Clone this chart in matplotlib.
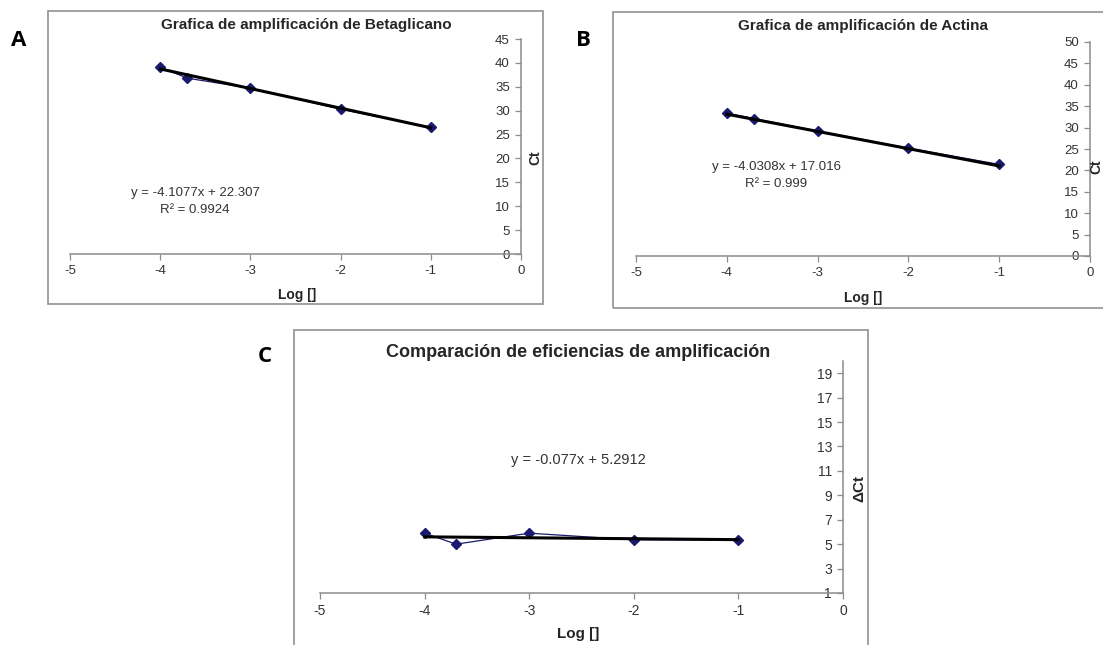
import matplotlib
matplotlib.use("Agg")
import matplotlib.pyplot as plt
from matplotlib.patches import Rectangle
import numpy as np

plt.rcParams['font.family'] = ['Liberation Sans', 'DejaVu Sans']

# data
log_conc = [-4, -3.699, -3, -2, -1]
ct_betaglicano = [39.1, 36.8, 34.7, 30.3, 26.5]
ct_actina = [33.4, 32.1, 29.2, 25.2, 21.4]
delta_ct = [5.9, 5.0, 5.9, 5.35, 5.35]

fit_betaglicano = (-4.1077, 22.307)
fit_actina = (-4.0308, 17.016)
fit_delta = (-0.077, 5.2912)

xticks = [-5, -4, -3, -2, -1, 0]

W, H = 1103, 645
fig = plt.figure(figsize=(W / 100, H / 100), dpi=100)
fig.patch.set_facecolor('white')

navy = '#1a1a6e'
grey = '#8c8c8c'
txt = '#333333'


def px_axes(left, right, top, bottom):
    return fig.add_axes([left / W, 1 - bottom / H, (right - left) / W, (bottom - top) / H])


def ftext(x, y, s, **kw):
    fig.text(x / W, 1 - y / H, s, **kw)


def frame(left, right, top, bottom):
    fig.patches.append(Rectangle((left / W, 1 - bottom / H), (right - left) / W, (bottom - top) / H,
                                 transform=fig.transFigure, fill=False, edgecolor='#9a9a9a', lw=1.3))


def panel(ax, y, fit, ylim, yticks, tsize):
    ax.set_facecolor('none')
    ax.plot(log_conc, y, color=navy, lw=0.9, marker='D', ms=5, zorder=3)
    xf = np.array([min(log_conc), max(log_conc)])
    ax.plot(xf, fit[0] * xf + fit[1], color='black', lw=2.2, zorder=4)
    ax.set_xlim(-5, 0)
    ax.set_ylim(*ylim)
    ax.set_xticks(xticks)
    ax.set_xticklabels([str(t) for t in xticks])
    ax.set_yticks(yticks)
    for s in ['top', 'right']:
        ax.spines[s].set_visible(False)
    ax.spines['left'].set_position(('axes', 1.0))
    for s in ['left', 'bottom']:
        ax.spines[s].set_color(grey)
        ax.spines[s].set_linewidth(1.1)
    ax.tick_params(direction='out', length=4, width=0.9, color=grey,
                   labelsize=tsize, labelcolor=txt, pad=4)
    ax.spines['left'].set_zorder(1)


# Panel A
frame(48, 543, 11, 304)
axA = px_axes(70, 521, 39, 254)
panel(axA, ct_betaglicano, fit_betaglicano, (0, 45), range(0, 50, 5), 9.5)
ftext(19, 40, 'A', fontsize=16, fontweight='bold', family='Open Sans', ha='center', va='center')
ftext(306, 25, 'Grafica de amplificación de Betaglicano', fontsize=11, fontweight='bold',
      color='#262626', ha='center', va='center')
ftext(195, 193, 'y = -4.1077x + 22.307', fontsize=9.5, color=txt, ha='center', va='center')
ftext(195, 210, 'R² = 0.9924', fontsize=9.5, color=txt, ha='center', va='center')
ftext(297, 295, 'Log []', fontsize=10, fontweight='bold', color='#262626', ha='center', va='center')
ftext(535, 158, 'Ct', fontsize=10, fontweight='bold', color='#262626', rotation=90,
      ha='center', va='center')

# Panel B
frame(613, 1115, 12, 308)
axB = px_axes(636, 1090, 42, 256)
panel(axB, ct_actina, fit_actina, (0, 50), range(0, 55, 5), 9.5)
ftext(583, 40, 'B', fontsize=16, fontweight='bold', family='Open Sans', ha='center', va='center')
ftext(863, 26, 'Grafica de amplificación de Actina', fontsize=11, fontweight='bold',
      color='#262626', ha='center', va='center')
ftext(776, 167, 'y = -4.0308x + 17.016', fontsize=9.5, color=txt, ha='center', va='center')
ftext(776, 184, 'R² = 0.999', fontsize=9.5, color=txt, ha='center', va='center')
ftext(863, 298, 'Log []', fontsize=10, fontweight='bold', color='#262626', ha='center', va='center')
ftext(1096, 167, 'Ct', fontsize=10, fontweight='bold', color='#262626', rotation=90,
      ha='center', va='center')

# Panel C
frame(294, 868, 330, 660)
axC = px_axes(320, 843, 361, 593)
panel(axC, delta_ct, fit_delta, (1, 20), range(1, 21, 2), 10)
ftext(265, 357, 'C', fontsize=16, fontweight='bold', family='Open Sans', ha='center', va='center')
ftext(578, 353, 'Comparación de eficiencias de amplificación', fontsize=13, fontweight='bold',
      color='#262626', ha='center', va='center')
ftext(578, 460, 'y = -0.077x + 5.2912', fontsize=10.5, color=txt, ha='center', va='center')
ftext(578, 634, 'Log []', fontsize=11, fontweight='bold', color='#262626', ha='center', va='center')
ftext(859, 488, 'ΔCt', fontsize=11, fontweight='bold', color='#262626', rotation=90,
      ha='center', va='center')

fig.savefig('out.png', dpi=100, facecolor='white')
